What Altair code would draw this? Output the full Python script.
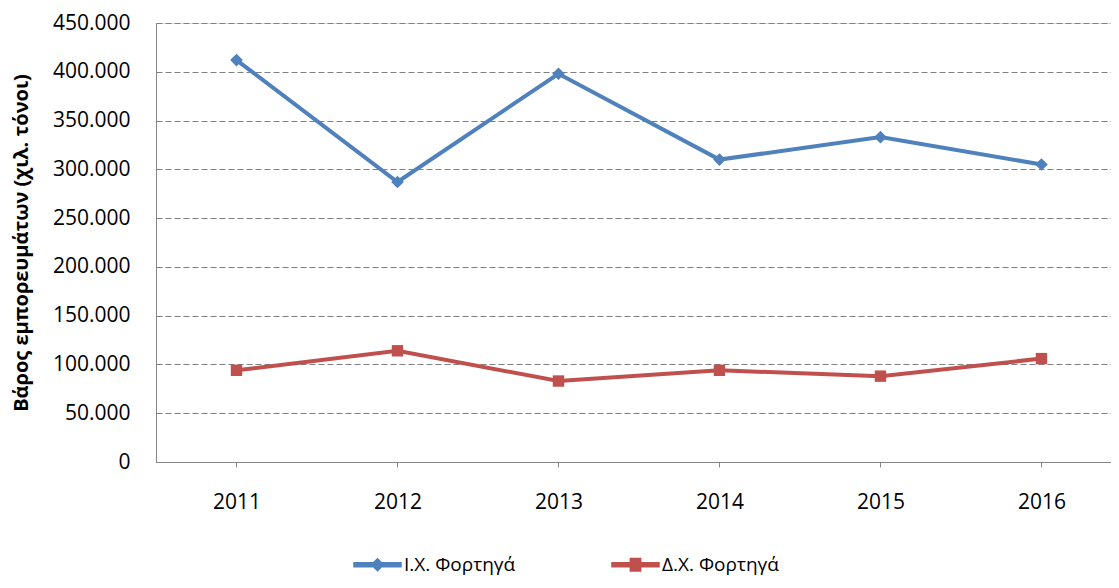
import altair as alt
import pandas as pd

years = [2011, 2012, 2013, 2014, 2015, 2016]
series_names = ["Ι.Χ. Φορτηγά", "Δ.Χ. Φορτηγά"]
ix_values = [412000, 287000, 398000, 310000, 333000, 305000]
dx_values = [94000, 114000, 83000, 94000, 88000, 106000]
y_ticks = [0, 50000, 100000, 150000, 200000, 250000, 300000, 350000, 400000, 450000]
colors = ["#4F81BD", "#C0504D"]

rows = []
for y, v in zip(years, ix_values):
    rows.append({"year": y, "value": v, "series": series_names[0]})
for y, v in zip(years, dx_values):
    rows.append({"year": y, "value": v, "series": series_names[1]})
df = pd.DataFrame(rows)

FONT = "Open Sans"

x_enc = alt.X("year:Q",
              scale=alt.Scale(domain=[2010.5, 2016.432], nice=False, zero=False),
              axis=alt.Axis(values=years, format="d", title=None, grid=False,
                            domainColor="#868686", tickColor="#868686", tickSize=5,
                            labelFontSize=21, labelPadding=24, labelColor="#000000",
                            labelFont=FONT))
y_enc = alt.Y("value:Q",
              scale=alt.Scale(domain=[0, 450000], nice=False),
              axis=alt.Axis(values=y_ticks, title="Βάρος εμπορευμάτων (χιλ. τόνοι)",
                            labelExpr="replace(format(datum.value, ','), ',', '.')",
                            ticks=False, grid=True, gridDash=[6, 3], gridColor="#808080",
                            domainColor="#868686", labelFontSize=21, labelPadding=26,
                            labelColor="#000000", labelFont=FONT,
                            titleFont=FONT, titleFontSize=20, titleFontWeight="bold",
                            titleColor="#000000", titlePadding=21))

color_scale = alt.Scale(domain=series_names, range=colors)

# legend symbols: a line with the marker in its middle (path spans x in [-2, 2])
diamond_path = ("M-2,-0.18 L-0.32,-0.18 L0,-0.5 L0.32,-0.18 L2,-0.18 L2,0.18 "
                "L0.32,0.18 L0,0.5 L-0.32,0.18 L-2,0.18 Z")
square_path = ("M-2,-0.18 L-0.44,-0.18 L-0.44,-0.54 L0.44,-0.54 L0.44,-0.18 L2,-0.18 "
               "L2,0.18 L0.44,0.18 L0.44,0.54 L-0.44,0.54 L-0.44,0.18 L-2,0.18 Z")

legend_props = dict(title=None, orient="none", direction="horizontal",
                    legendX=209, legendY=529, symbolSize=552, labelFont=FONT,
                    labelFontSize=19, labelColor="#000000", labelOffset=14,
                    columnPadding=93, labelLimit=400, symbolOpacity=1)

# legend-only layer (no marks drawn); placed first so its legend settings win
legend_layer = alt.Chart(df).transform_filter("false").mark_point(
    filled=True, opacity=1
).encode(
    x=x_enc, y=y_enc,
    color=alt.Color("series:N", scale=color_scale, legend=alt.Legend(**legend_props)),
    shape=alt.Shape("series:N",
                    scale=alt.Scale(domain=series_names, range=[diamond_path, square_path]),
                    legend=alt.Legend(**legend_props)),
)

lines = alt.Chart(df).mark_line(strokeWidth=4).encode(
    x=x_enc, y=y_enc,
    color=alt.Color("series:N", scale=color_scale),
    detail="series:N",
)

pts_ix = alt.Chart(df).transform_filter(
    alt.datum.series == series_names[0]
).mark_point(shape="diamond", filled=True, size=160, opacity=1).encode(
    x=x_enc, y=y_enc,
    color=alt.Color("series:N", scale=color_scale),
)

pts_dx = alt.Chart(df).transform_filter(
    alt.datum.series == series_names[1]
).mark_point(shape="square", filled=True, size=130, opacity=1).encode(
    x=x_enc, y=y_enc,
    color=alt.Color("series:N", scale=color_scale),
)

chart = alt.layer(legend_layer, lines, pts_ix, pts_dx).properties(
    width=955, height=439,
    autosize=alt.AutoSizeParams(type="none"),
    padding={"left": 148, "top": 15, "right": 0, "bottom": 118},
).configure_view(stroke=None).configure(background="white")

chart.save("out.html", embed_options={"renderer": "svg", "actions": False})
